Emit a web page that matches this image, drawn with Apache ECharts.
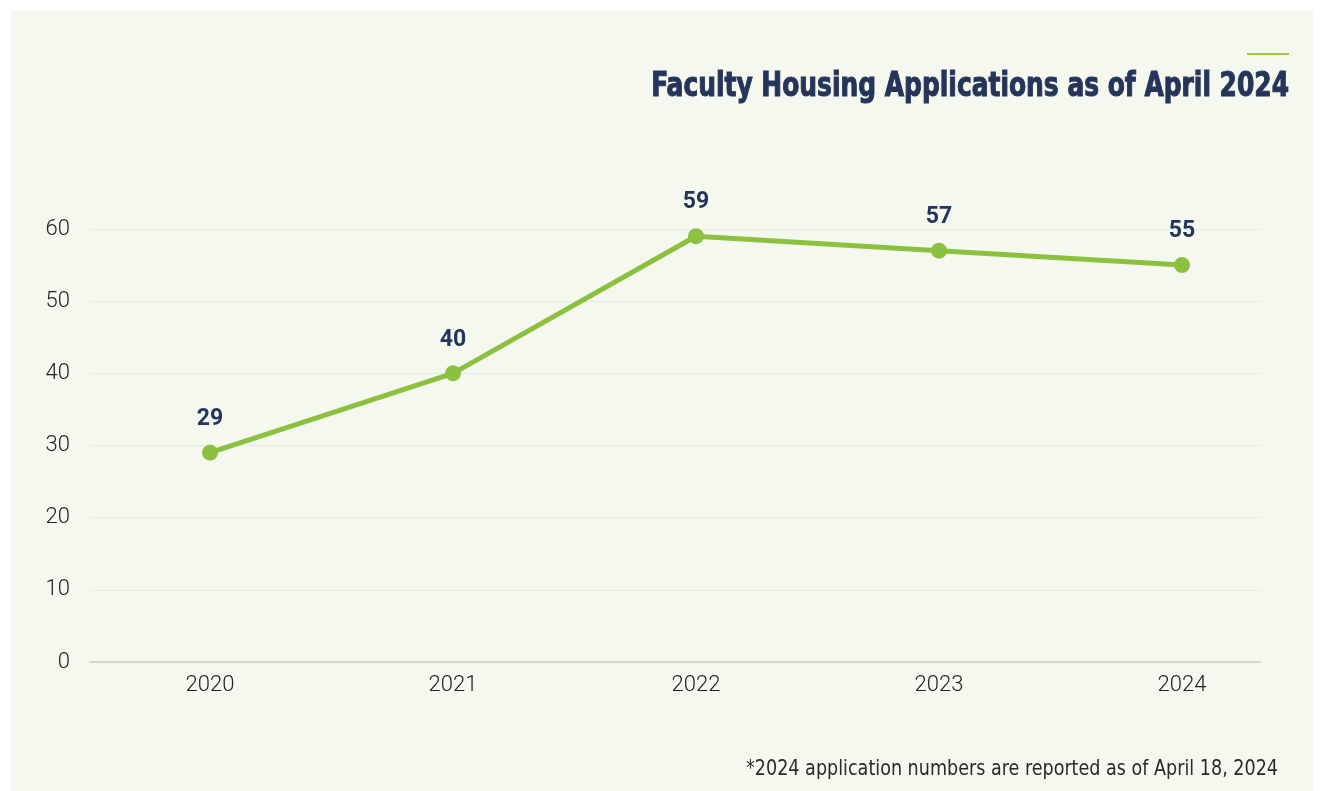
<!DOCTYPE html>
<html><head><meta charset="utf-8">
<script src="https://cdn.jsdelivr.net/npm/echarts@6/dist/echarts.min.js"></script>
<style>html,body{margin:0;padding:0;background:#fff;}#c{width:1324px;height:791px;}</style>
</head><body><div id="c"></div>
<script>
const categories = ['2020', '2021', '2022', '2023', '2024'];
const applications = [29, 40, 59, 57, 55];
const yTicks = [0, 10, 20, 30, 40, 50, 60];
const titleText = 'Faculty Housing Applications as of April 2024';
const footnoteText = '*2024 application numbers are reported as of April 18, 2024';

const chart = echarts.init(document.getElementById('c'));
const navy = '#25345a';
const green = '#8cc13f';
chart.setOption({
  backgroundColor: '#ffffff',
  graphic: [
    { type: 'rect', shape: { x: 11, y: 10, width: 1302, height: 781 }, style: { fill: '#f5f8ee' }, z: -10 },
    { type: 'line', shape: { x1: 1247, y1: 54, x2: 1289, y2: 54 }, style: { stroke: '#9ccb4a', lineWidth: 2 } },
    { type: 'text', x: 1289, y: 87, scaleX: 0.84, style: { text: titleText, fill: navy, stroke: navy, lineWidth: 1, textAlign: 'right', textVerticalAlign: 'middle', font: 'bold 33px "DejaVu Sans Condensed", "DejaVu Sans", sans-serif' } },
    { type: 'text', x: 1278, y: 770, scaleX: 0.93, style: { text: footnoteText, fill: '#2a2a2a', textAlign: 'right', textVerticalAlign: 'middle', font: '21px "DejaVu Sans Condensed", sans-serif' } }
  ],
  grid: [
    { left: 90, right: 64, top: 229, bottom: 129 },
    { left: 210, right: 142, top: 229, bottom: 129 }
  ],
  xAxis: [
    { gridIndex: 0, type: 'value', min: 0, max: 1, show: true, axisLine: { show: true, lineStyle: { color: '#d4d6cf', width: 2 } }, axisTick: { show: false }, axisLabel: { show: false }, splitLine: { show: false } },
    { gridIndex: 1, type: 'category', data: categories, boundaryGap: false, axisLine: { show: false }, axisTick: { show: false },
      axisLabel: { color: '#222', fontSize: 22, fontWeight: 300, margin: 12, fontFamily: 'Roboto, sans-serif' } }
  ],
  yAxis: [
    { gridIndex: 0, type: 'value', min: yTicks[0], max: yTicks[yTicks.length - 1], interval: 10,
      axisLine: { show: false }, axisTick: { show: false },
      axisLabel: { color: '#222', fontSize: 22, fontWeight: 300, margin: 20, fontFamily: 'Roboto, sans-serif' },
      splitLine: { show: true, lineStyle: { color: '#e9ebe3', width: 1 } } },
    { gridIndex: 1, type: 'value', min: yTicks[0], max: yTicks[yTicks.length - 1], show: false }
  ],
  series: [{
    type: 'line', xAxisIndex: 1, yAxisIndex: 1, data: applications,
    lineStyle: { color: green, width: 5 },
    itemStyle: { color: green },
    symbol: 'circle', symbolSize: 16,
    label: { show: true, position: 'top', distance: 14, color: navy, fontSize: 23, fontWeight: 'bold', fontFamily: 'Roboto, sans-serif' },
    animation: false
  }]
});
</script></body></html>
